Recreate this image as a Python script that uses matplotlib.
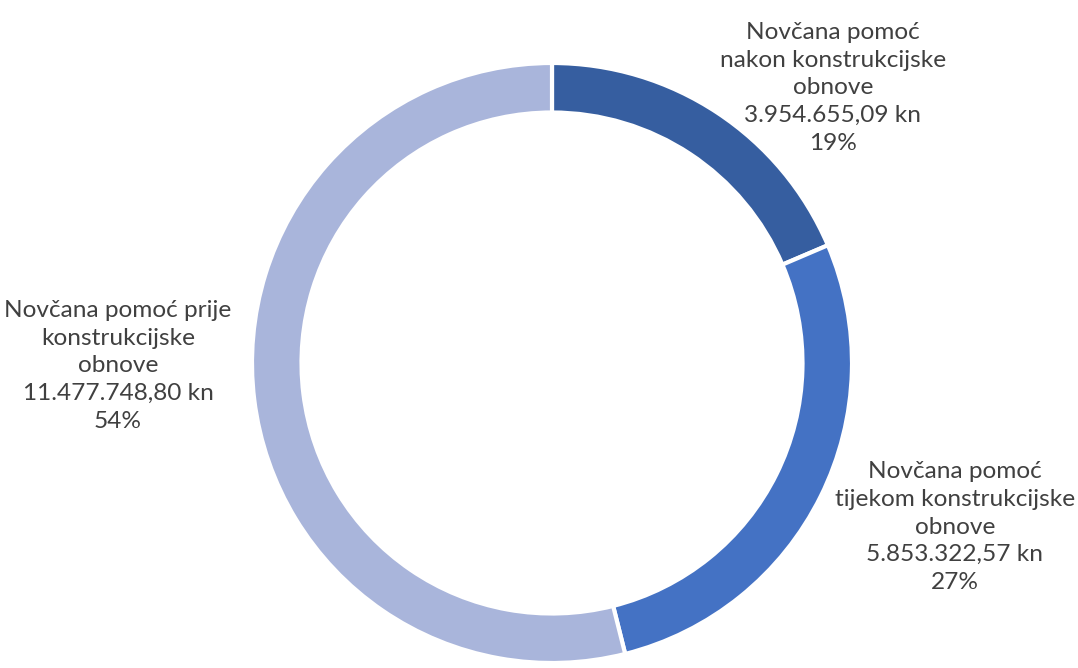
import matplotlib
matplotlib.use("Agg")
import matplotlib.pyplot as plt

categories = ["Novčana pomoć\nnakon konstrukcijske\nobnove",
              "Novčana pomoć\ntijekom konstrukcijske\nobnove",
              "Novčana pomoć prije\nkonstrukcijske\nobnove"]
values = [3954655.09, 5853322.57, 11477748.80]
value_labels = ["3.954.655,09 kn", "5.853.322,57 kn", "11.477.748,80 kn"]
colors = ["#365EA0", "#4472C4", "#A9B5DB"]

W, H = 1078, 668
fig = plt.figure(figsize=(W / 100, H / 100), dpi=100)
ax = fig.add_axes([0, 0, 1, 1])

R = 300
ax.pie(values, colors=colors, startangle=90, counterclock=False,
       center=(552, H - 363), radius=R,
       wedgeprops=dict(width=R * 0.165, edgecolor="white", linewidth=3))
ax.set_xlim(0, W)
ax.set_ylim(0, H)
ax.set_aspect("equal")
ax.axis("off")

total = sum(values)
label_pos = [(833, 88), (955, 527), (118, 366)]
for cat, vl, v, (x, y) in zip(categories, value_labels, values, label_pos):
    pct = f"{round(v / total * 100)}%"
    ax.text(x, H - y, f"{cat}\n{vl}\n{pct}", ha="center", va="center",
            fontsize=17.6, family="Lato", color="#404040", linespacing=1.4)

fig.savefig("out.png", dpi=100)
